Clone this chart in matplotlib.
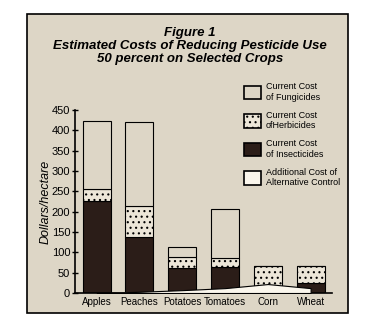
import matplotlib
matplotlib.use("Agg")
import matplotlib.pyplot as plt
from matplotlib import font_manager
from matplotlib.patches import Rectangle, Patch
import numpy as np

crops = ["Apples", "Peaches", "Potatoes", "Tomatoes", "Corn", "Wheat"]
insecticides = [226, 137, 61, 65, 0, 25]
herbicides = [30, 78, 27, 20, 66, 41]
fungicides = [168, 205, 24, 121, 0, 0]
alternative = [0, 3, 7, 12, 22, 12]

legend_labels = ["Current Cost\nof Fungicides", "Current Cost\nofHerbicides",
                 "Current Cost\nof Insecticides", "Additional Cost of\nAlternative Control"]

names = {f.name for f in font_manager.fontManager.ttflist}
narrow = "Liberation Sans Narrow" if "Liberation Sans Narrow" in names else "Liberation Sans"
plt.rcParams["font.family"] = [narrow, "DejaVu Sans"]

bg = "#ddd6c6"
dark = "#2b1d18"
light = "#faf6ec"
dots = "#ece6d8"

fig = plt.figure(figsize=(3.82, 3.36), dpi=100)
fig.patch.set_facecolor("white")

# beige panel with a border, behind everything
fig.patches.append(Rectangle((27 / 382, 1 - 313 / 336), 321 / 382, 299 / 336,
                             transform=fig.transFigure, facecolor=bg,
                             edgecolor="black", lw=1.2, zorder=-5))

ax = fig.add_axes([75 / 382, 1 - 293 / 336, 257 / 382, 183 / 336])
ax.set_facecolor("none")
ax.set_zorder(2)

x = np.arange(len(crops))
w = 0.654
ins = np.array(insecticides)
herb = np.array(herbicides)
fung = np.array(fungicides)

plt.rcParams["hatch.color"] = "#3a2a22"
plt.rcParams["hatch.linewidth"] = 0.8
ax.bar(x, ins, w, color=dark, edgecolor="black", lw=0.8, zorder=2)
ax.bar(x, herb, w, bottom=ins, color=dots, edgecolor="black", hatch="...", lw=0.8, zorder=2)
ax.bar(x, fung, w, bottom=ins + herb, color=bg, edgecolor="black", lw=0.8, zorder=2)

ax.fill_between(x, 0, alternative, color=light, edgecolor="black", lw=0.8, zorder=3)

ax.set_xlim(-0.507, 5.5)
ax.set_ylim(0, 450)
ax.set_yticks(np.arange(0, 451, 50))
ax.set_xticks(x)
ax.set_xticklabels(crops, fontsize=7)
ax.tick_params(axis="x", length=0, pad=3)
ax.tick_params(axis="y", direction="inout", length=5, width=1, labelsize=8, pad=1)
for s in ["top", "right"]:
    ax.spines[s].set_visible(False)
for s in ["left", "bottom"]:
    ax.spines[s].set_linewidth(1.2)
ax.set_ylabel("Dollars/hectare", fontsize=9, style="italic", labelpad=0)

handles = [Patch(facecolor=bg, edgecolor="black", lw=1.2),
           Patch(facecolor=dots, edgecolor="black", hatch="...", lw=1.2),
           Patch(facecolor=dark, edgecolor="black", lw=1.2),
           Patch(facecolor=light, edgecolor="black", lw=1.2)]
leg = fig.legend(handles, legend_labels, loc="upper left",
                 bbox_to_anchor=(238 / 382, 1 - 76 / 336), frameon=False,
                 fontsize=6.5, handlelength=1.9, handleheight=1.9,
                 handletextpad=0.5, labelspacing=1.0, borderpad=0.2)
leg.set_zorder(3)

title_kw = dict(ha="center", va="center", fontsize=9.5, weight="bold", style="italic")
fig.text(190 / 382, 1 - 33 / 336, "Figure 1", **title_kw)
fig.text(190 / 382, 1 - 46 / 336, "Estimated Costs of Reducing Pesticide Use", **title_kw)
fig.text(190 / 382, 1 - 59 / 336, "50 percent on Selected Crops", **title_kw)

fig.savefig("out.png", dpi=100)
